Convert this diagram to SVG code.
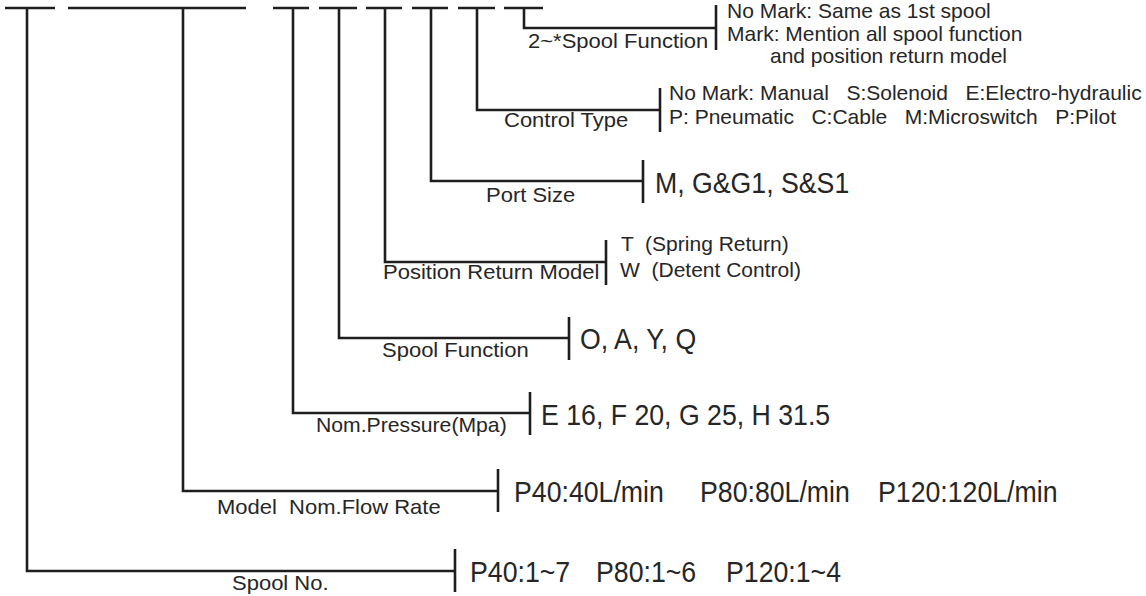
<svg xmlns="http://www.w3.org/2000/svg" width="1146" height="596" viewBox="0 0 1146 596" xml:space="preserve">
<style>
  .ln { stroke: #1e1e1e; stroke-width: 2.6; fill: none; stroke-linecap: butt; }
  text { font-family: "Liberation Sans", Arial, sans-serif; fill: #262626; white-space: pre; }
  .lab { font-size: 20px; }
  .val { font-size: 30px; }
  .dsc { font-size: 21px; }
</style>
<rect width="1146" height="596" fill="#ffffff"/>
<g id="connectors">
  <path class="ln" d="M5 8H55 M68 8H246 M273 8H309 M319 8H357 M366 8H402 M412 8H448 M458 8H495 M504 8H543"/>
  <path class="ln" d="M27 8V571H455 M455 549V592"/>
  <path class="ln" d="M183 8V491H498 M498 469V512"/>
  <path class="ln" d="M293 8V413H530 M530 392V435"/>
  <path class="ln" d="M339 8V338H569 M569 317V360"/>
  <path class="ln" d="M385 8V262H606 M606 240V285"/>
  <path class="ln" d="M431 8V181H643 M643 160V203"/>
  <path class="ln" d="M477 8V110H660 M660 88V132"/>
  <path class="ln" d="M524 8V28H716 M716 5V50"/>
</g>
<g id="spool-no">
  <text class="lab" transform="matrix(1.1 0 0 1 232 590)">Spool No.</text>
  <text class="val" transform="matrix(0.89 0 0 1 470 582)">P40:1~7</text>
  <text class="val" transform="matrix(0.89 0 0 1 596 582)">P80:1~6</text>
  <text class="val" transform="matrix(0.89 0 0 1 726 582)">P120:1~4</text>
</g>
<g id="flow-rate">
  <text class="lab" transform="matrix(1.1 0 0 1 217 514)">Model  Nom.Flow Rate</text>
  <text class="val" transform="matrix(0.89 0 0 1 514 502)">P40:40L/min</text>
  <text class="val" transform="matrix(0.89 0 0 1 700 502)">P80:80L/min</text>
  <text class="val" transform="matrix(0.89 0 0 1 878 502)">P120:120L/min</text>
</g>
<g id="pressure">
  <text class="lab" transform="matrix(1.06 0 0 1 316 432)">Nom.Pressure(Mpa)</text>
  <text class="val" transform="matrix(0.89 0 0 1 541 425)">E 16, F 20, G 25, H 31.5</text>
</g>
<g id="spool-function">
  <text class="lab" transform="matrix(1.1 0 0 1 382 357)">Spool Function</text>
  <text class="val" transform="matrix(0.89 0 0 1 580 349)">O, A, Y, Q</text>
</g>
<g id="position-return">
  <text class="lab" transform="matrix(1.1 0 0 1 383 279)">Position Return Model</text>
  <text class="dsc" x="621" y="251">T  (Spring Return)</text>
  <text class="dsc" x="620" y="277">W  (Detent Control)</text>
</g>
<g id="port-size">
  <text class="lab" transform="matrix(1.1 0 0 1 486 202)">Port Size</text>
  <text class="val" transform="matrix(0.89 0 0 1 655 193)">M, G&amp;G1, S&amp;S1</text>
</g>
<g id="control-type">
  <text class="lab" transform="matrix(1.1 0 0 1 504 127)">Control Type</text>
  <text class="dsc" x="669" y="100">No Mark: Manual   S:Solenoid   E:Electro-hydraulic</text>
  <text class="dsc" x="669" y="124">P: Pneumatic   C:Cable   M:Microswitch   P:Pilot</text>
</g>
<g id="spool-function-2">
  <text class="lab" transform="matrix(1.1 0 0 1 528 48)">2~*Spool Function</text>
  <text class="dsc" x="727" y="18">No Mark: Same as 1st spool</text>
  <text class="dsc" x="727" y="41">Mark: Mention all spool function</text>
  <text class="dsc" x="770" y="63">and position return model</text>
</g>
</svg>
